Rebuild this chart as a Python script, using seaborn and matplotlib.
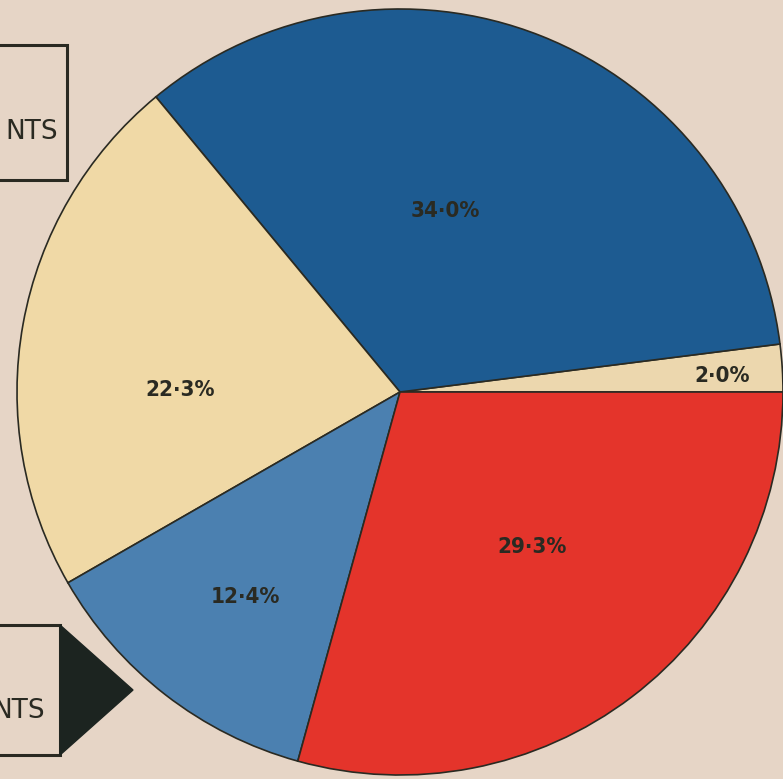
import seaborn as sns
import matplotlib.pyplot as plt
from matplotlib.patches import Rectangle, Polygon

# slice values, counter-clockwise from 3 o'clock
shares = [2.0, 34.0, 22.3, 12.4, 29.3]
labels = ["2·0%", "34·0%", "22·3%", "12·4%", "29·3%"]
colors = ["#ecd7ae", "#1d5b91", "#f0d9a6", "#4b80b0", "#e4342b"]
box_texts = ["NTS", "NTS"]

sns.set_theme(style="white")
plt.rcParams["font.family"] = ["DejaVu Sans"]

bg = "#e6d5c6"
ink = "#2a2a22"

fig = plt.figure(figsize=(7.83, 7.79), dpi=100, facecolor=bg)
ax = fig.add_axes([0, 0, 1, 1])
ax.set_facecolor(bg)

wedges, _ = ax.pie(
    shares,
    colors=colors,
    startangle=0,
    counterclock=True,
    center=(400, 387),
    radius=383,
    wedgeprops=dict(edgecolor=ink, linewidth=1.2),
    frame=True,
)

# label positions (pixel coords) for each slice
label_pos = [(722, 403), (445, 568), (180, 389), (245, 182), (532, 232)]
for lab, (x, y) in zip(labels, label_pos):
    ax.text(x, y, lab, ha="center", va="center", fontsize=16, fontweight="bold",
            color=ink, fontstretch="condensed")

# boxes on the left
ax.add_patch(Rectangle((-20, 599), 87, 135, fill=False, edgecolor=ink, linewidth=2.2))
ax.text(58, 647, box_texts[0], ha="right", va="center", fontsize=19, color=ink)

ax.add_patch(Rectangle((-20, 24), 80, 130, fill=False, edgecolor=ink, linewidth=2.2))
ax.add_patch(Polygon([(60, 154), (133, 89), (60, 24)], closed=True, facecolor="#1c2420", edgecolor="#1c2420"))
ax.text(45, 68, box_texts[1], ha="right", va="center", fontsize=19, color=ink)

ax.set_xlim(0, 783)
ax.set_ylim(0, 779)
ax.set_aspect("equal")
ax.axis("off")

fig.savefig("out.png", dpi=100, facecolor=bg)
